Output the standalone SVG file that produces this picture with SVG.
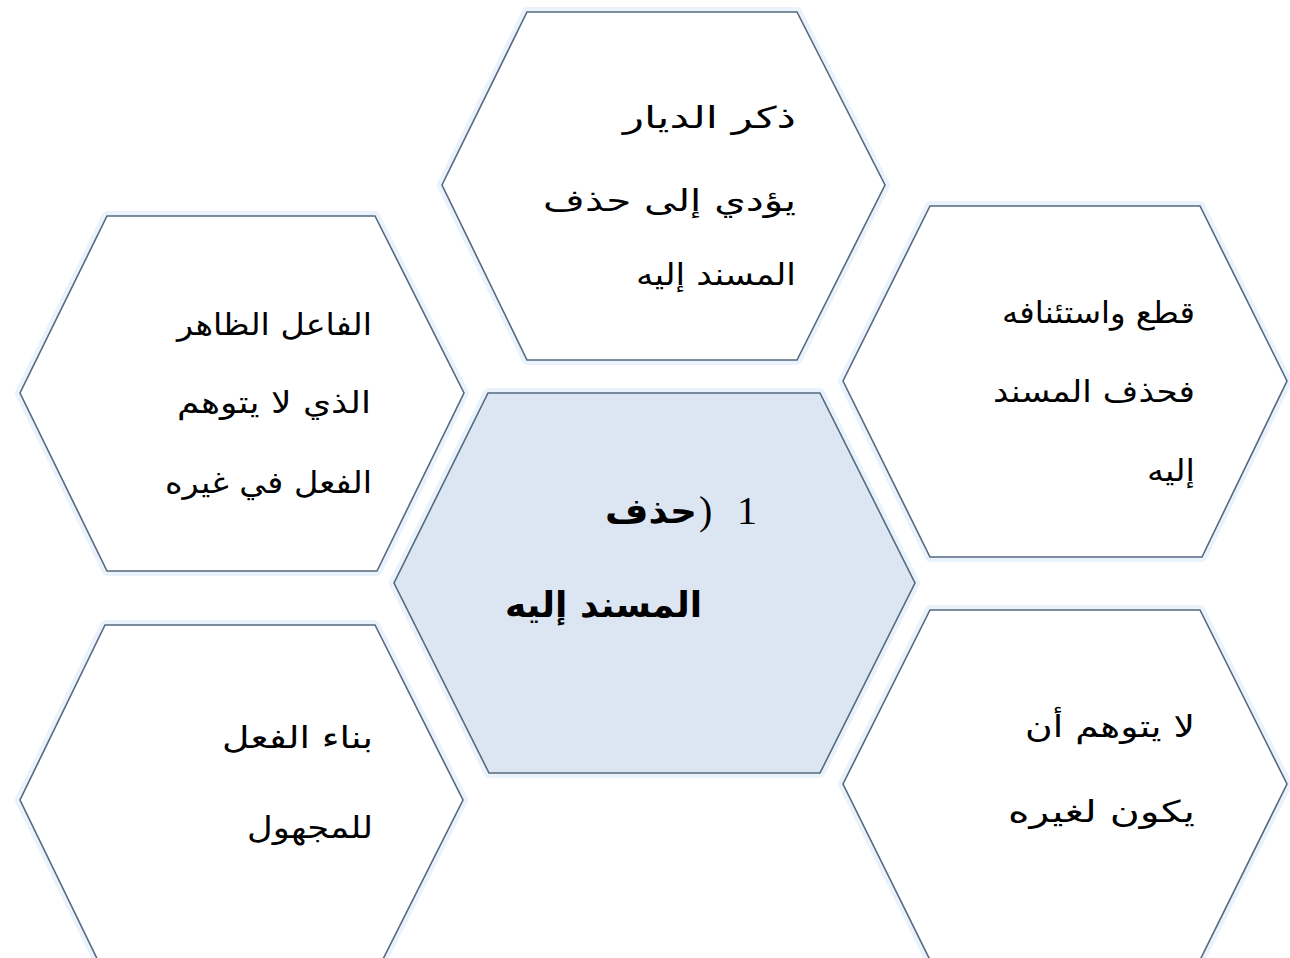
<svg xmlns="http://www.w3.org/2000/svg" width="1290" height="958" viewBox="0 0 1290 958">
  <style>
    .halo { fill: none; stroke: #eaf2fb; stroke-width: 10; stroke-linejoin: round; }
    .hex { fill: #ffffff; stroke: #55697f; stroke-width: 1.6; stroke-linejoin: miter; }
    .hex.core { fill: #dce6f2; }
    .lbl { font-family: "DejaVu Sans", "Noto Sans", sans-serif; font-size: 30px; fill: #000000; direction: rtl; text-anchor: start; }
    .big { font-size: 35px; font-weight: bold; }
    .num { font-family: "Liberation Serif", serif; font-size: 40px; fill: #000000; direction: ltr; unicode-bidi: bidi-override; }
  </style>
  <rect x="0" y="0" width="1290" height="958" fill="#ffffff"/>

  <g id="connectors"/>

  <!-- top: ذكر الديار -->
  <g id="node-top">
    <polygon class="halo" points="527,12 797,12 885,185 797,360 527,360 442,185"/>
    <polygon class="hex" points="527,12 797,12 885,185 797,360 527,360 442,185"/>
    <text class="lbl" x="796" y="128" textLength="173" lengthAdjust="spacingAndGlyphs">ذكر الديار</text>
    <text class="lbl" x="796" y="211" textLength="253" lengthAdjust="spacingAndGlyphs">يؤدي إلى  حذف</text>
    <text class="lbl" x="796" y="285" textLength="160" lengthAdjust="spacingAndGlyphs">المسند إليه</text>
  </g>

  <!-- upper left: الفاعل الظاهر -->
  <g id="node-upper-left">
    <polygon class="halo" points="107,216 375,216 464,393 377,571 107,571 20,393"/>
    <polygon class="hex" points="107,216 375,216 464,393 377,571 107,571 20,393"/>
    <text class="lbl" x="372" y="335" textLength="195" lengthAdjust="spacingAndGlyphs">الفاعل الظاهر</text>
    <text class="lbl" x="371" y="413" textLength="194" lengthAdjust="spacingAndGlyphs">الذي لا يتوهم</text>
    <text class="lbl" x="372" y="493" textLength="207" lengthAdjust="spacingAndGlyphs">الفعل في غيره</text>
  </g>

  <!-- upper right: قطع واستئنافه -->
  <g id="node-upper-right">
    <polygon class="halo" points="930,206 1200,206 1287,381 1202,557 930,557 843,381"/>
    <polygon class="hex" points="930,206 1200,206 1287,381 1202,557 930,557 843,381"/>
    <text class="lbl" x="1195" y="323" textLength="193" lengthAdjust="spacingAndGlyphs">قطع واستئنافه</text>
    <text class="lbl" x="1195" y="402" textLength="202" lengthAdjust="spacingAndGlyphs">فحذف المسند</text>
    <text class="lbl" x="1195" y="481" textLength="48" lengthAdjust="spacingAndGlyphs">إليه</text>
  </g>

  <!-- centre: حذف المسند إليه -->
  <g id="node-center">
    <polygon class="halo" points="488,393 820,393 915,583 820,773 489,773 394,583"/>
    <polygon class="hex core" points="488,393 820,393 915,583 820,773 489,773 394,583"/>
    <text class="num" x="737" y="524">1</text>
    <text class="num" x="699" y="524">)</text>
    <text class="lbl big" x="697" y="523" textLength="92" lengthAdjust="spacingAndGlyphs">حذف</text>
    <text class="lbl big" x="702" y="617" textLength="197" lengthAdjust="spacingAndGlyphs">المسند إليه</text>
  </g>

  <!-- lower left: بناء الفعل للمجهول -->
  <g id="node-lower-left">
    <polygon class="halo" points="105,625 375,625 463,800 375,975 105,975 20,800"/>
    <polygon class="hex" points="105,625 375,625 463,800 375,975 105,975 20,800"/>
    <text class="lbl" x="373" y="748" textLength="151" lengthAdjust="spacingAndGlyphs">بناء الفعل</text>
    <text class="lbl" x="373" y="838" textLength="126" lengthAdjust="spacingAndGlyphs">للمجهول</text>
  </g>

  <!-- lower right: لا يتوهم أن يكون لغيره -->
  <g id="node-lower-right">
    <polygon class="halo" points="930,610 1200,610 1287,784 1200,960 930,960 843,784"/>
    <polygon class="hex" points="930,610 1200,610 1287,784 1200,960 930,960 843,784"/>
    <text class="lbl" x="1195" y="737" textLength="170" lengthAdjust="spacingAndGlyphs">لا يتوهم أن</text>
    <text class="lbl" x="1195" y="822" textLength="187" lengthAdjust="spacingAndGlyphs">يكون لغيره</text>
  </g>
</svg>
